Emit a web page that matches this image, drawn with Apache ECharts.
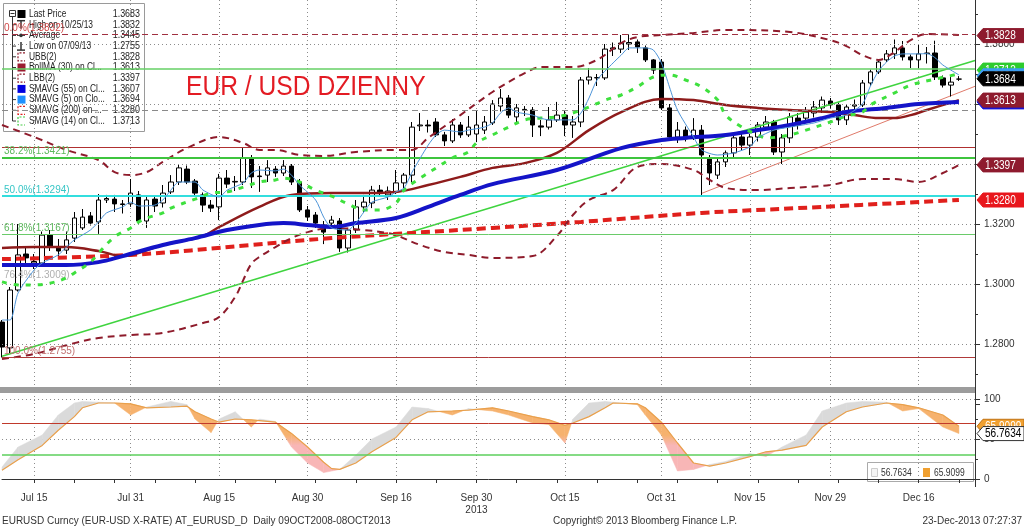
<!DOCTYPE html>
<html><head><meta charset="utf-8">
<script src="https://cdn.jsdelivr.net/npm/echarts/dist/echarts.min.js"></script>
<style>html,body{margin:0;padding:0;background:#fff}#c{width:1024px;height:530px}</style>
</head><body><div id="c"></div>
<script>
// ---------------- DATA ----------------
// daily candles [open, close, low, high], first = 2013-07-09 (trading days)
const ohlc = [
[1.2873,1.2790,1.2755,1.2880],[1.2787,1.2980,1.2770,1.2990],[1.2980,1.3097,1.2975,1.3200],[1.3100,1.3087,1.3060,1.3120],
[1.3070,1.3075,1.3050,1.3100],[1.3070,1.3163,1.3060,1.3175],[1.3163,1.3123,1.3110,1.3180],[1.3123,1.3110,1.3090,1.3150],
[1.3113,1.3147,1.3100,1.3175],[1.3153,1.3220,1.3140,1.3240],[1.3187,1.3223,1.3180,1.3250],[1.3227,1.3203,1.3195,1.3240],
[1.3207,1.3280,1.3167,1.3300],[1.3280,1.3285,1.3270,1.3297],[1.3283,1.3267,1.3240,1.3297],[1.3267,1.3265,1.3235,1.3280],
[1.3267,1.3303,1.3257,1.3350],[1.3297,1.3210,1.3200,1.3310],[1.3210,1.3280,1.3187,1.3293],[1.3283,1.3260,1.3240,1.3290],
[1.3270,1.3303,1.3255,1.3330],[1.3307,1.3340,1.3300,1.3363],[1.3340,1.3387,1.3330,1.3400],[1.3383,1.3340,1.3333,1.3395],
[1.3343,1.3303,1.3290,1.3350],[1.3297,1.3263,1.3240,1.3305],[1.3263,1.3253,1.3240,1.3280],[1.3257,1.3353,1.3213,1.3367],
[1.3353,1.3333,1.3320,1.3380],[1.3340,1.3342,1.3310,1.3360],[1.3340,1.3420,1.3330,1.3453],[1.3420,1.3357,1.3320,1.3430],
[1.3360,1.3358,1.3307,1.3393],[1.3363,1.3387,1.3340,1.3413],[1.3383,1.3370,1.3357,1.3393],[1.3370,1.3393,1.3360,1.3413],
[1.3393,1.3340,1.3330,1.3400],[1.3340,1.3247,1.3240,1.3350],[1.3247,1.3223,1.3210,1.3260],[1.3230,1.3203,1.3187,1.3240],
[1.3197,1.3173,1.3133,1.3210],[1.3203,1.3213,1.3190,1.3227],[1.3210,1.3120,1.3107,1.3220],[1.3120,1.3180,1.3105,1.3187],
[1.3180,1.3257,1.3170,1.3280],[1.3257,1.3273,1.3237,1.3297],[1.3270,1.3313,1.3253,1.3327],[1.3313,1.3303,1.3290,1.3330],
[1.3297,1.3310,1.3280,1.3325],[1.3307,1.3337,1.3300,1.3380],[1.3337,1.3363,1.3320,1.3370],[1.3363,1.3523,1.3340,1.3540],
[1.3527,1.3530,1.3510,1.3570],[1.3530,1.3527,1.3505,1.3547],[1.3540,1.3497,1.3490,1.3553],[1.3497,1.3477,1.3460,1.3507],
[1.3477,1.3530,1.3470,1.3550],[1.3530,1.3497,1.3487,1.3540],[1.3497,1.3523,1.3490,1.3560],[1.3500,1.3530,1.3473,1.3580],
[1.3513,1.3540,1.3500,1.3560],[1.3537,1.3600,1.3530,1.3613],[1.3593,1.3620,1.3575,1.3650],[1.3620,1.3563,1.3553,1.3630],
[1.3557,1.3587,1.3540,1.3600],[1.3580,1.3582,1.3560,1.3593],[1.3580,1.3530,1.3490,1.3590],[1.3527,1.3523,1.3493,1.3547],
[1.3523,1.3547,1.3515,1.3590],[1.3547,1.3563,1.3540,1.3607],[1.3563,1.3530,1.3493,1.3580],[1.3530,1.3540,1.3487,1.3560],
[1.3540,1.3680,1.3523,1.3690],[1.3680,1.3690,1.3665,1.3720],[1.3687,1.3688,1.3660,1.3700],[1.3687,1.3783,1.3680,1.3800],
[1.3783,1.3787,1.3760,1.3805],[1.3783,1.3803,1.3770,1.3830],[1.3800,1.3805,1.3780,1.3832],[1.3807,1.3790,1.3770,1.3815],
[1.3787,1.3747,1.3740,1.3795],[1.3747,1.3713,1.3700,1.3750],[1.3740,1.3587,1.3580,1.3750],[1.3587,1.3490,1.3480,1.3600],
[1.3490,1.3513,1.3470,1.3540],[1.3513,1.3490,1.3475,1.3525],[1.3490,1.3513,1.3480,1.3553],[1.3513,1.3430,1.3295,1.3530],
[1.3420,1.3370,1.3330,1.3430],[1.3363,1.3407,1.3350,1.3420],[1.3407,1.3437,1.3390,1.3445],[1.3437,1.3487,1.3420,1.3500],
[1.3490,1.3463,1.3445,1.3500],[1.3463,1.3490,1.3430,1.3500],[1.3490,1.3530,1.3475,1.3540],[1.3523,1.3540,1.3510,1.3560],
[1.3540,1.3440,1.3430,1.3547],[1.3440,1.3487,1.3400,1.3500],[1.3487,1.3557,1.3470,1.3570],[1.3553,1.3530,1.3515,1.3570],
[1.3553,1.3573,1.3540,1.3590],[1.3570,1.3590,1.3555,1.3610],[1.3587,1.3613,1.3570,1.3625],[1.3610,1.3597,1.3585,1.3620],
[1.3597,1.3547,1.3530,1.3605],[1.3547,1.3590,1.3530,1.3600],[1.3593,1.3597,1.3575,1.3615],[1.3597,1.3670,1.3590,1.3680],
[1.3670,1.3707,1.3660,1.3715],[1.3707,1.3740,1.3700,1.3745],[1.3747,1.3767,1.3740,1.3780],[1.3767,1.3787,1.3750,1.3815],
[1.3787,1.3757,1.3745,1.3810],[1.3757,1.3747,1.3720,1.3765],[1.3747,1.3767,1.3720,1.3797],[1.3768,1.3770,1.3735,1.3790],
[1.3770,1.3690,1.3680,1.3811],[1.3687,1.3663,1.3655,1.3695],[1.3663,1.3673,1.3625,1.3693],[1.3683,1.3683,1.3677,1.3693]
];
// overlay lines, [dayIndex, value]
const bbUpper = [[0,1.3530],[4,1.3490],[8,1.3447],[12,1.3413],[14,1.3373],[16,1.3363],[18,1.3373],[20,1.3407],[23,1.3453],[27,1.3490],[30,1.3470],[32,1.3447],[34,1.3447],[37,1.3430],[40,1.3427],[44,1.3440],[49,1.3447],[51,1.3447],[53,1.3487],[57,1.3563],[61,1.3640],[65,1.3703],[67,1.3723],[71,1.3723],[74,1.3747],[77,1.3803],[79,1.3823],[82,1.3830],[86,1.3837],[90,1.3847],[98,1.3840],[103,1.3813],[105,1.3793],[107,1.3763],[109,1.3747],[111,1.3773],[113,1.3813],[115,1.3833],[119,1.3830]];
const bbLower = [[0,1.2750],[4,1.2767],[9,1.2803],[12,1.2820],[16,1.2830],[20,1.2837],[25,1.2870],[27,1.2890],[29,1.2957],[30,1.3013],[31,1.3067],[32,1.3090],[34,1.3123],[36,1.3153],[38,1.3173],[41,1.3187],[45,1.3180],[48,1.3170],[49,1.3163],[52,1.3130],[55,1.3107],[58,1.3097],[61,1.3087],[66,1.3093],[69,1.3160],[71,1.3230],[73,1.3280],[76,1.3313],[79,1.3390],[82,1.3400],[86,1.3380],[88,1.3347],[90,1.3320],[94,1.3313],[98,1.3320],[103,1.3330],[107,1.3350],[111,1.3350],[114,1.3340],[117,1.3370],[119,1.3397]];
const bollMA = [[0,1.3120],[4,1.3123],[8,1.3123],[12,1.3110],[15,1.3093],[20,1.3130],[25,1.3160],[27,1.3190],[32,1.3257],[36,1.3297],[41,1.3303],[44,1.3303],[49,1.3307],[53,1.3330],[57,1.3357],[61,1.3387],[65,1.3403],[69,1.3437],[73,1.3513],[77,1.3573],[82,1.3617],[86,1.3613],[90,1.3597],[94,1.3587],[98,1.3580],[103,1.3573],[106,1.3563],[109,1.3553],[111,1.3553],[113,1.3563],[115,1.3580],[119,1.3613]];
const sma55 = [[0,1.3063],[8,1.3063],[12,1.3073],[15,1.3093],[20,1.3130],[24,1.3153],[28,1.3180],[32,1.3197],[35,1.3203],[38,1.3197],[41,1.3190],[44,1.3203],[49,1.3220],[53,1.3257],[57,1.3297],[61,1.3333],[69,1.3380],[77,1.3453],[82,1.3480],[85,1.3487],[90,1.3497],[94,1.3513],[98,1.3530],[102,1.3553],[105,1.3573],[110,1.3587],[114,1.3600],[119,1.3607]];
const sma5 = [[0,1.2880],[1,1.2880],[2,1.2970],[4,1.3047],[5,1.3070],[7,1.3097],[8,1.3123],[9,1.3147],[11,1.3180],[12,1.3207],[13,1.3237],[15,1.3257],[16,1.3273],[17,1.3260],[19,1.3263],[20,1.3280],[21,1.3313],[22,1.3340],[24,1.3340],[25,1.3313],[27,1.3290],[28,1.3313],[30,1.3337],[31,1.3370],[32,1.3380],[34,1.3377],[35,1.3383],[36,1.3363],[37,1.3330],[39,1.3280],[40,1.3223],[41,1.3187],[43,1.3180],[44,1.3203],[45,1.3240],[46,1.3273],[48,1.3290],[49,1.3307],[50,1.3320],[51,1.3373],[53,1.3463],[54,1.3497],[55,1.3513],[57,1.3507],[58,1.3513],[60,1.3523],[61,1.3537],[62,1.3570],[63,1.3587],[64,1.3573],[66,1.3563],[67,1.3553],[68,1.3547],[71,1.3547],[72,1.3570],[73,1.3620],[74,1.3680],[76,1.3737],[77,1.3763],[78,1.3787],[80,1.3787],[81,1.3780],[82,1.3737],[83,1.3657],[84,1.3580],[86,1.3490],[87,1.3447],[89,1.3430],[91,1.3437],[93,1.3457],[94,1.3487],[96,1.3513],[98,1.3523],[101,1.3537],[103,1.3553],[105,1.3563],[107,1.3600],[108,1.3660],[109,1.3710],[110,1.3740],[111,1.3760],[112,1.3767],[114,1.3767],[115,1.3768],[116,1.3755],[117,1.3730],[119,1.3697]];
const sma200 = [[0,1.3083],[16,1.3097],[31,1.3130],[41,1.3153],[61,1.3187],[72,1.3207],[87,1.3237],[99,1.3253],[119,1.3280]];
const sma14 = [[0,1.3007],[2,1.2997],[4,1.2997],[6,1.3003],[8,1.3020],[9,1.3037],[11,1.3073],[12,1.3103],[14,1.3157],[16,1.3187],[17,1.3207],[18,1.3220],[20,1.3237],[21,1.3253],[24,1.3283],[26,1.3303],[28,1.3307],[30,1.3323],[32,1.3340],[34,1.3347],[35,1.3353],[37,1.3340],[39,1.3313],[41,1.3293],[43,1.3267],[45,1.3247],[47,1.3247],[49,1.3270],[50,1.3313],[52,1.3353],[54,1.3387],[56,1.3420],[58,1.3440],[59,1.3470],[61,1.3497],[63,1.3523],[65,1.3547],[67,1.3553],[69,1.3557],[71,1.3570],[73,1.3590],[75,1.3613],[77,1.3630],[79,1.3657],[81,1.3690],[83,1.3697],[85,1.3680],[87,1.3657],[89,1.3613],[90,1.3563],[92,1.3523],[94,1.3497],[95,1.3487],[98,1.3497],[100,1.3513],[103,1.3540],[105,1.3560],[107,1.3573],[108,1.3597],[111,1.3637],[113,1.3663],[116,1.3683],[119,1.3700]];
const trendLong = [[0,1.2759],[121,1.3745]];
const trendShort = [[87,1.3302],[121,1.3659]];
// horizontal levels
const gridLevels = [1.28,1.30,1.32,1.34,1.36,1.38];
const fibValues = [1.3832,1.3578,1.3421,1.3294,1.3167,1.3009,1.2755];
const fibTexts = ['0.0%(1.3832)','','38.2%(1.3421)','50.0%(1.3294)','61.8%(1.3167)','76.4%(1.3009)','100.0%(1.2755)'];
const extraLevels = [1.3457,1.3717];
// right-hand value tags
const mainTagValues = [1.3607,1.3613,1.3280,1.3397,1.3828,1.3713,1.3694,1.3684];
const lowerTagValues = [65.9099,56.7634];
// oscillator (lower panel)
const oscIdx = [0,2,5,7,9,10,12,14,16,18,21,23,24,26,27,29,31,32,34,36,38,40,41,42,44,46,49,51,53,56,58,61,63,66,68,70,71,73,75,76,79,80,82,84,86,88,90,93,95,97,100,102,105,107,110,112,114,117,119];
const oscD = [11,24,42,61,78,89,95,95,94,89,90,91,84,75,71,75,74,73,71,57,40,21,13,12,20,34,52,74,84,85,86,89,85,78,74,67,70,78,89,95,94,89,71,45,20,16,20,28,34,36,42,65,84,90,95,93,89,80,65.91];
const oscK = [15,40,55,80,95,97,96,95,80,90,97,93,75,58,75,84,65,75,72,40,20,8,10,12,30,50,65,90,88,80,88,85,80,70,68,45,75,95,97,96,93,80,55,10,12,18,22,32,28,40,55,85,95,97,96,85,88,65,56.76];
const oscLevels = [70,30];
// axis labels
const tickDates = ['2013-07-15','2013-07-31','2013-08-15','2013-08-30','2013-09-16','2013-09-30','2013-10-15','2013-10-31','2013-11-15','2013-11-29','2013-12-16'];
const tickLabels = ['Jul 15','Jul 31','Aug 15','Aug 30','Sep 16','Sep 30','Oct 15','Oct 31','Nov 15','Nov 29','Dec 16'];
const yearLabel = '2013', yearDate = '2013-09-30';
// legend / texts
const titleText = 'EUR / USD DZIENNY';
const legendNames = ['Last Price','High on 10/25/13','Average','Low on 07/09/13','UBB(2)','BollMA (30) on Cl...','LBB(2)','SMAVG (55) on Cl...','SMAVG (5) on Clo...','SMAVG (200) on ...','SMAVG (14) on Cl...'];
const legendValues = ['1.3683','1.3832','1.3445','1.2755','1.3828','1.3613','1.3397','1.3607','1.3694','1.3280','1.3713'];
const lowerLegendValues = ['56.7634','65.9099'];

// ---------------- STYLE / LAYOUT ----------------
const FONT = '"Liberation Sans", Arial, sans-serif';
const C = {darkred:'#8e1b2b', blue:'#1414c8', lblue:'#4d94d8', red:'#e0201c', green:'#3ee03e', cyan:'#33dede'};
const legendIcons = [['sq','#000'],['T','#333'],['avg','#333'],['low','#333'],['br',C.darkred],['sq','#9b1b30'],['br',C.darkred],['sq','#0000e0'],['sq','#1e90ff'],['br',C.red],['br','#44cc44']];
const mainTagColors = ['#1515d8','#8e1b2e','#e8161c','#8e1b2e','#8e1b2e','#2ecc2e','#3c9df0','#000000'];
const fibStyles = [
  {color:'#a03040', type:[6,4], width:1, label:'#d04848'},
  {color:'#8a8a8a', type:[6,4], width:1, label:'#999'},
  {color:'#3ec43e', type:'solid', width:2, label:'#5cb85c'},
  {color:C.cyan, type:'solid', width:2, label:'#37c6c6'},
  {color:'#6acb6a', type:'solid', width:1, label:'#5cb85c'},
  {color:'rgba(0,0,0,0)', type:'solid', width:1, label:'#b0b0b0'},
  {color:'#b03a3a', type:'solid', width:1, label:'#c07070'}
];
const extraStyles = [{color:'#b03030', width:1},{color:'#66d066', width:1.5}];

// categories: trading days from 2013-07-09
const cats = [], mondays = new Set();
(function(){
  const d = new Date(Date.UTC(2013,6,9));
  while (cats.length < 120) {
    const wd = d.getUTCDay();
    if (wd !== 0 && wd !== 6) {
      if (wd === 1) mondays.add(cats.length);
      cats.push(d.toISOString().slice(0,10));
    }
    d.setUTCDate(d.getUTCDate()+1);
  }
  cats.push('pad1'); cats.push('pad2');
})();
const labelText = {};
tickDates.forEach((t,k)=>{ const i = cats.indexOf(t); labelText[i] = tickLabels[k] + (t===yearDate ? '\n'+yearLabel : ''); });
const isLabel = i => labelText[i] !== undefined;

// condensed text helper (horizontal squeeze)
function ctext(x, y, text, size, fill, align, sx) {
  return {type:'text', x:x, y:y, scaleX:sx||0.82, scaleY:1,
    style:{x:0, y:0, text:text, fill:fill, font:size+'px '+FONT, align:align||'left', verticalAlign:'middle'}};
}

// ---------------- RENDER HELPERS ----------------
function tagRenderer(values, fills, strokes, textColors) {
  return function(params, api) {
    const i = params.dataIndex;
    const v = values[i];
    const y = api.coord([0, v])[1];
    const x0 = params.coordSys.x + params.coordSys.width;
    const W = api.getWidth(), h = 7;
    return {type:'group', children:[
      {type:'polygon', shape:{points:[[x0+2,y],[x0+8,y-h],[W,y-h],[W,y+h],[x0+8,y+h]]},
       style:{fill:fills[i], stroke:strokes[i], lineWidth:1}},
      ctext(x0+10, y+0.5, v.toFixed(4), 12, textColors[i], 'left', 0.84)
    ]};
  };
}
function oscFillRender(params, api) {
  const j = params.dataIndex;
  if (j >= oscIdx.length - 1) return null;
  const K0 = api.coord([oscIdx[j], oscK[j]]), K1 = api.coord([oscIdx[j+1], oscK[j+1]]);
  const D0 = api.coord([oscIdx[j], oscD[j]]), D1 = api.coord([oscIdx[j+1], oscD[j+1]]);
  const a0 = oscK[j]-oscD[j], a1 = oscK[j+1]-oscD[j+1];
  const y55 = api.coord([0,55])[1], y42 = api.coord([0,42])[1];
  const warm = new echarts.graphic.LinearGradient(0, y55, 0, y42, [{offset:0,color:'#f6b26e'},{offset:1,color:'#f8b6b6'}], true);
  const fillFor = a => a >= 0 ? '#dadada' : warm;
  const polys = [];
  if (a0 * a1 < 0) {
    const t = a0/(a0-a1);
    const X = [K0[0]+(K1[0]-K0[0])*t, K0[1]+(K1[1]-K0[1])*t];
    polys.push([[K0,X,D0], a0]); polys.push([[X,K1,D1], a1]);
  } else {
    polys.push([[K0,K1,D1,D0], a0+a1]);
  }
  return {type:'group', children: polys.map(p => ({type:'polygon', shape:{points:p[0]}, style:{fill:fillFor(p[1]), stroke:fillFor(p[1]), lineWidth:0.5}}))};
}

// ---------------- LEGEND GRAPHIC ----------------
const lg = [];
lg.push({type:'rect', shape:{x:3.5,y:3.5,width:141,height:128}, style:{fill:'rgba(255,255,255,0.88)', stroke:'#9a9a9a', lineWidth:1}});
lg.push({type:'rect', shape:{x:9.5,y:10.5,width:6,height:6}, style:{fill:'#fff', stroke:'#333', lineWidth:1}});
lg.push({type:'line', shape:{x1:10.5,y1:13.5,x2:14.5,y2:13.5}, style:{stroke:'#333', lineWidth:1}});
lg.push({type:'line', shape:{x1:12.5,y1:17,x2:12.5,y2:121}, style:{stroke:'#333', lineWidth:1}});
legendNames.forEach((n,k)=>{
  const y = 14 + k*10.7;
  const [kind, col] = legendIcons[k];
  if (k>0) lg.push({type:'line', shape:{x1:12.5,y1:y,x2:16,y2:y}, style:{stroke:'#333', lineWidth:1}});
  if (kind==='sq') lg.push({type:'rect', shape:{x:17.5,y:y-4,width:8,height:8}, style:{fill:col}});
  else if (kind==='T') { lg.push({type:'line', shape:{x1:17,y1:y-4,x2:25,y2:y-4}, style:{stroke:col,lineWidth:1.5}}); lg.push({type:'line', shape:{x1:21,y1:y-4,x2:21,y2:y+4}, style:{stroke:col,lineWidth:1.5}}); }
  else if (kind==='avg') { lg.push({type:'line', shape:{x1:17,y1:y,x2:25,y2:y}, style:{stroke:col,lineWidth:1}}); lg.push({type:'circle', shape:{cx:21,cy:y,r:1.8}, style:{fill:col}}); }
  else if (kind==='low') { lg.push({type:'line', shape:{x1:21,y1:y-4,x2:21,y2:y+4}, style:{stroke:col,lineWidth:1.5}}); lg.push({type:'line', shape:{x1:17,y1:y+4,x2:25,y2:y+4}, style:{stroke:col,lineWidth:1.5}}); }
  else lg.push({type:'polyline', shape:{points:[[25,y-4],[18,y-4],[18,y+4],[25,y+4]]}, style:{stroke:col, lineWidth:1.2, lineDash:[2,1.5], fill:null}});
  lg.push(ctext(29, y, n, 10.5, '#222', 'left', 0.8));
  lg.push(ctext(140, y, legendValues[k], 10.5, '#222', 'right', 0.85));
});

const graphics = [
  {type:'group', z:100, children: lg},
  Object.assign(ctext(186, 87, titleText, 28, '#e31b23', 'left', 0.88), {z:40}),
  {type:'rect', z:50, shape:{x:0,y:387,width:975,height:6}, style:{fill:'#9c9c9c'}},
  {type:'line', z:50, shape:{x1:975.5,y1:0,x2:975.5,y2:487}, style:{stroke:'#333', lineWidth:1}},
  {type:'group', z:60, children:[
    {type:'rect', shape:{x:867.5,y:462.5,width:106,height:19}, style:{fill:'#fff', stroke:'#aaa', lineWidth:1}},
    {type:'rect', shape:{x:871.5,y:468.5,width:6,height:8}, style:{fill:'#f4f4f4', stroke:'#ccc', lineWidth:1}},
    ctext(881, 473, lowerLegendValues[0], 10, '#333', 'left', 0.85),
    {type:'rect', shape:{x:923,y:468,width:7,height:9}, style:{fill:'#f0a030'}},
    ctext(934, 473, lowerLegendValues[1], 10, '#333', 'left', 0.85)
  ]},
  {type:'text', z:60, style:{x:2, y:521, text:'EURUSD Curncy (EUR-USD X-RATE) AT_EURUSD_D  Daily 09OCT2008-08OCT2013', fill:'#333', font:'10px '+FONT, verticalAlign:'middle'}},
  {type:'text', z:60, style:{x:553, y:521, text:'Copyright\u00A9 2013 Bloomberg Finance L.P.', fill:'#333', font:'10px '+FONT, verticalAlign:'middle'}},
  {type:'text', z:60, style:{x:1022, y:521, text:'23-Dec-2013 07:27:37', fill:'#333', font:'10px '+FONT, align:'right', verticalAlign:'middle'}}
];

// ---------------- MARK LINES ----------------
const mainMarks = [];
gridLevels.forEach(v=>mainMarks.push({yAxis:v, lineStyle:{color:'#8c8c8c', type:[1,3], width:1}, label:{show:false}}));
extraLevels.forEach((v,k)=>mainMarks.push({yAxis:v, lineStyle:{color:extraStyles[k].color, type:'solid', width:extraStyles[k].width}, label:{show:false}}));
fibValues.forEach((v,k)=>{
  const s = fibStyles[k];
  mainMarks.push({yAxis:v, lineStyle:{color:s.color, type:s.type, width:s.width},
    label:{show: fibTexts[k] !== '', formatter: fibTexts[k], position:'insideStartTop', distance:[2,1], color:s.label, fontSize:10, fontFamily:FONT}});
});

const lineS = (data, style, z, smooth) => ({type:'line', xAxisIndex:0, yAxisIndex:0, data, symbol:'none', showSymbol:false, smooth: smooth===undefined?0.35:smooth, lineStyle:style, z, silent:true});

const option = {
  animation:false,
  backgroundColor:'#fff',
  grid:[
    {left:2, top:-16, width:973, height:420, outerBoundsMode:'none', containLabel:false},
    {left:2, top:399, width:973, height:80, outerBoundsMode:'none', containLabel:false}
  ],
  xAxis:[
    {type:'category', gridIndex:0, data:cats, boundaryGap:false, axisLine:{show:false}, axisTick:{show:false}, axisLabel:{show:false},
     splitLine:{show:true, interval:(i)=>isLabel(i), lineStyle:{color:'#8c8c8c', type:[1,3]}}},
    {type:'category', gridIndex:1, data:cats, boundaryGap:false, offset:8, axisLine:{show:true, lineStyle:{color:'#333'}},
     axisTick:{show:true, interval:(i)=>mondays.has(i), length:4, lineStyle:{color:'#333'}},
     axisLabel:{show:true, interval:(i)=>isLabel(i), formatter:(v,i)=>labelText[i]||'', color:'#333', fontSize:10, fontFamily:FONT, margin:5, lineHeight:12},
     splitLine:{show:true, interval:(i)=>isLabel(i), lineStyle:{color:'#8c8c8c', type:[1,3]}}}
  ],
  yAxis:[
    {type:'value', gridIndex:0, position:'right', min:1.26, max:1.40, interval:0.02, axisLine:{show:false},
     axisTick:{show:true, length:5, lineStyle:{color:'#333'}}, minorTick:{show:true, splitNumber:2, length:3, lineStyle:{color:'#333'}},
     splitLine:{show:false}, minorSplitLine:{show:false},
     axisLabel:{color:'#333', fontSize:10, fontFamily:FONT, margin:9, formatter:v=>(v<1.275||v>1.385)?'':v.toFixed(4)}},
    {type:'value', gridIndex:1, position:'right', min:0, max:100, interval:50, axisLine:{show:false},
     axisTick:{show:true, length:5, lineStyle:{color:'#333'}}, minorTick:{show:true, splitNumber:2, length:3, lineStyle:{color:'#333'}},
     splitLine:{show:true, lineStyle:{color:'#8c8c8c', type:[1,3]}}, minorSplitLine:{show:false},
     axisLabel:{color:'#333', fontSize:10, fontFamily:FONT, margin:9}}
  ],
  graphic: graphics,
  series:[
    {type:'line', xAxisIndex:0, yAxisIndex:0, data:[], silent:true, z:1,
     markLine:{symbol:'none', silent:true, animation:false, precision:4, data: mainMarks}},
    lineS(trendShort, {color:'#e07a6a', width:1}, 2, false),
    {type:'candlestick', xAxisIndex:0, yAxisIndex:0, data:ohlc, barWidth:5, z:3, silent:true,
     itemStyle:{color:'#fff', color0:'#000', borderColor:'#000', borderColor0:'#000', borderWidth:1}},
    lineS(trendLong, {color:'#3fd43f', width:1.5}, 4, false),
    lineS(sma200, {color:C.red, width:4, type:[9,5]}, 4),
    lineS(bbUpper, {color:C.darkred, width:2, type:[7,5]}, 4),
    lineS(bbLower, {color:C.darkred, width:2, type:[7,5]}, 4),
    lineS(bollMA, {color:'#8e1b1b', width:2.5}, 4),
    lineS(sma55, {color:C.blue, width:4}, 5),
    lineS(sma14, {color:C.green, width:3, type:[5,7]}, 5),
    lineS(sma5, {color:C.lblue, width:1}, 6, 0.25),
    {type:'custom', xAxisIndex:0, yAxisIndex:0, clip:false, z:20, silent:true,
     data: mainTagValues.map(v=>[119, v]), encode:{x:0, y:1},
     renderItem: tagRenderer(mainTagValues, mainTagColors, mainTagColors.map(c=>c), mainTagValues.map(()=>'#fff'))},
    // lower panel
    {type:'custom', xAxisIndex:1, yAxisIndex:1, z:2, silent:true,
     data: oscIdx.map((x,j)=>[x, oscK[j], oscD[j]]), encode:{x:0, y:[1,2]}, renderItem: oscFillRender},
    {type:'line', xAxisIndex:1, yAxisIndex:1, data: oscIdx.map((x,j)=>[x, oscD[j]]), symbol:'none', showSymbol:false, silent:true, z:4,
     lineStyle:{color:'#e9a04c', width:1.2},
     markLine:{symbol:'none', silent:true, animation:false, precision:4, data:[
       {yAxis:oscLevels[0], lineStyle:{color:'#c0392b', type:'solid', width:1}, label:{show:false}},
       {yAxis:oscLevels[1], lineStyle:{color:'#5ccf5c', type:'solid', width:1.5}, label:{show:false}}]}},
    {type:'custom', xAxisIndex:1, yAxisIndex:1, clip:false, z:20, silent:true,
     data: lowerTagValues.map(v=>[119, v]), encode:{x:0, y:1},
     renderItem: tagRenderer(lowerTagValues, ['#f0a030','#ffffff'], ['#c07010','#333'], ['#fff','#000'])}
  ]
};
const chart = echarts.init(document.getElementById('c'), null, {renderer:'canvas', width:1024, height:530});
chart.setOption(option);
</script>
</body></html>
